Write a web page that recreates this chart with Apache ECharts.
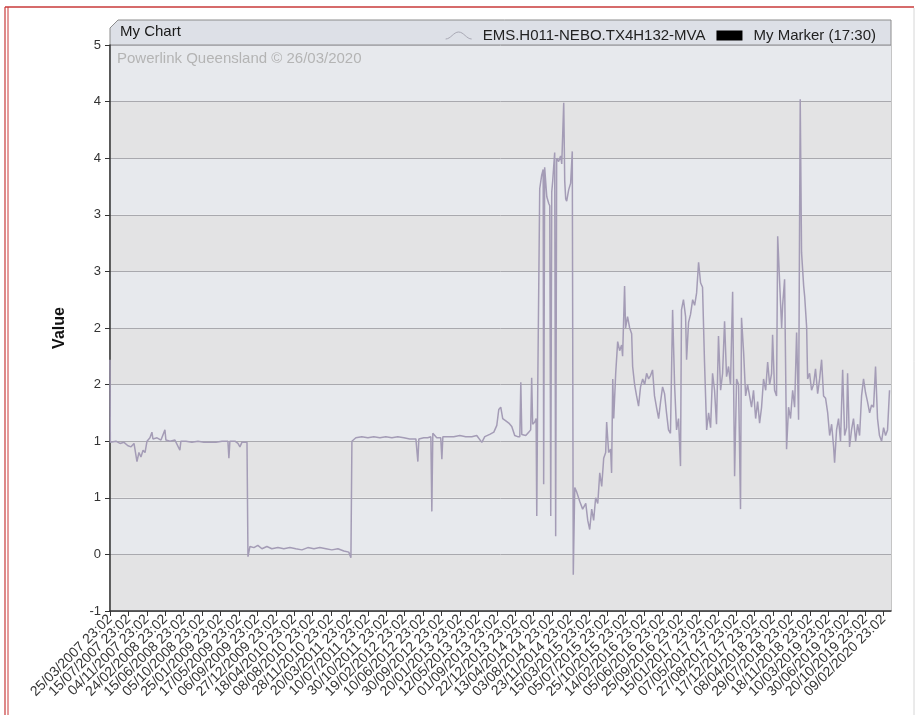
<!DOCTYPE html>
<html>
<head>
<meta charset="utf-8">
<title>My Chart</title>
<script src="https://cdn.jsdelivr.net/npm/echarts@6/dist/echarts.min.js"></script>
<style>
  html, body { margin: 0; padding: 0; background: #ffffff; }
  #chart { width: 917px; height: 715px; }
</style>
</head>
<body>
<div id="chart"></div>
<script>
// Series and legend names
const seriesName = 'EMS.H011-NEBO.TX4H132-MVA';
const markerName = 'My Marker (17:30)';
const chartTitle = 'My Chart';
const creditText = 'Powerlink Queensland \u00A9 26/03/2020';
const yAxisName = 'Value';

// Time axis tick labels (every 112 days)
const xTickLabels = [
  '25/03/2007 23:02', '15/07/2007 23:02', '04/11/2007 23:02', '24/02/2008 23:02',
  '15/06/2008 23:02', '05/10/2008 23:02', '25/01/2009 23:02', '17/05/2009 23:02',
  '06/09/2009 23:02', '27/12/2009 23:02', '18/04/2010 23:02', '08/08/2010 23:02',
  '28/11/2010 23:02', '20/03/2011 23:02', '10/07/2011 23:02', '30/10/2011 23:02',
  '19/02/2012 23:02', '10/06/2012 23:02', '30/09/2012 23:02', '20/01/2013 23:02',
  '12/05/2013 23:02', '01/09/2013 23:02', '22/12/2013 23:02', '13/04/2014 23:02',
  '03/08/2014 23:02', '23/11/2014 23:02', '15/03/2015 23:02', '05/07/2015 23:02',
  '25/10/2015 23:02', '14/02/2016 23:02', '05/06/2016 23:02', '25/09/2016 23:02',
  '15/01/2017 23:02', '07/05/2017 23:02', '27/08/2017 23:02', '17/12/2017 23:02',
  '08/04/2018 23:02', '29/07/2018 23:02', '18/11/2018 23:02', '10/03/2019 23:02',
  '30/06/2019 23:02', '20/10/2019 23:02', '09/02/2020 23:02'
];
const xAxisEnd = '25/03/2020';

// Sample times, in days after 25/03/2007 23:02
const dayOffset = [
  0, 2, 12, 36, 61, 85, 109, 128, 146, 164, 176, 188, 201, 213, 225, 243, 255, 261, 286, 310,
  334, 340, 365, 395, 425, 431, 462, 498, 535, 571, 608, 644, 681, 717, 723, 729, 760, 778, 790, 802,
  833, 839, 851, 875, 899, 924, 954, 984, 1021, 1057, 1094, 1130, 1167, 1203, 1240, 1276, 1313, 1349, 1386, 1422,
  1452, 1465, 1471, 1495, 1531, 1568, 1604, 1641, 1677, 1714, 1750, 1787, 1823, 1860, 1872, 1878, 1908, 1932, 1951, 1957,
  1963, 1987, 2011, 2018, 2024, 2054, 2090, 2127, 2163, 2200, 2230, 2261, 2279, 2309, 2334, 2352, 2364, 2376, 2388, 2407,
  2425, 2443, 2461, 2479, 2492, 2498, 2504, 2528, 2546, 2558, 2564, 2570, 2583, 2591, 2595, 2601, 2613, 2625, 2634, 2637,
  2643, 2656, 2668, 2674, 2680, 2686, 2692, 2704, 2710, 2716, 2728, 2740, 2747, 2759, 2765, 2771, 2777, 2789, 2801, 2811,
  2817, 2826, 2838, 2856, 2874, 2893, 2905, 2917, 2929, 2941, 2953, 2966, 2978, 2990, 3002, 3014, 3020, 3032, 3044, 3050,
  3057, 3063, 3075, 3087, 3099, 3111, 3117, 3129, 3135, 3147, 3160, 3172, 3178, 3190, 3202, 3214, 3226, 3239, 3251, 3263,
  3275, 3287, 3299, 3311, 3323, 3336, 3348, 3360, 3372, 3384, 3396, 3408, 3421, 3433, 3445, 3457, 3469, 3475, 3487, 3500,
  3506, 3518, 3530, 3543, 3555, 3567, 3579, 3591, 3603, 3615, 3628, 3640, 3652, 3664, 3676, 3688, 3700, 3713, 3725, 3737,
  3749, 3761, 3773, 3786, 3798, 3810, 3822, 3834, 3840, 3853, 3865, 3877, 3889, 3901, 3913, 3926, 3938, 3950, 3962, 3974,
  3987, 3999, 4011, 4023, 4029, 4041, 4053, 4060, 4072, 4084, 4090, 4102, 4114, 4126, 4138, 4151, 4163, 4175, 4181, 4187,
  4197, 4205, 4218, 4224, 4236, 4242, 4254, 4266, 4278, 4290, 4303, 4315, 4327, 4339, 4351, 4364, 4376, 4388, 4400, 4406,
  4418, 4430, 4442, 4455, 4467, 4479, 4485, 4497, 4509, 4521, 4534, 4546, 4558, 4570, 4582, 4594, 4606, 4619, 4631, 4643,
  4655, 4667, 4679, 4692, 4704, 4716, 4728, 4740
];

// MVA readings at those times
const mva = [
  1.72, 0.99, 0.98, 1.00, 0.98, 0.99, 0.96, 0.95, 0.98, 0.82, 0.90, 0.86, 0.92, 0.90, 1.00, 1.03, 1.08, 1.02, 1.03, 1.01,
  1.10, 1.01, 1.00, 1.01, 0.92, 1.00, 1.00, 0.99, 1.00, 0.99, 0.99, 0.99, 1.00, 1.00, 0.85, 1.00, 1.00, 0.98, 0.95, 0.99,
  0.99, -0.02, 0.07, 0.06, 0.08, 0.05, 0.07, 0.05, 0.06, 0.05, 0.06, 0.05, 0.04, 0.06, 0.05, 0.06, 0.05, 0.04, 0.05, 0.03,
  0.02, -0.03, 1.00, 1.03, 1.04, 1.03, 1.04, 1.03, 1.04, 1.03, 1.04, 1.03, 1.02, 1.02, 0.82, 1.02, 1.03, 1.03, 1.04, 0.38,
  1.07, 1.03, 1.03, 0.84, 1.04, 1.04, 1.04, 1.05, 1.04, 1.04, 1.05, 0.99, 1.04, 1.06, 1.08, 1.14, 1.28, 1.30, 1.20, 1.18,
  1.16, 1.13, 1.05, 1.04, 1.04, 1.52, 1.06, 1.05, 1.08, 1.10, 1.56, 1.15, 1.17, 1.20, 0.34, 1.48, 3.23, 3.35, 3.40, 0.62,
  3.42, 3.16, 3.10, 3.08, 0.34, 3.20, 3.30, 3.55, 0.16, 3.50, 3.47, 3.52, 3.45, 3.99, 3.30, 3.14, 3.12, 3.22, 3.28, 3.56,
  -0.18, 0.59, 0.55, 0.47, 0.40, 0.45, 0.30, 0.22, 0.40, 0.30, 0.50, 0.45, 0.72, 0.60, 0.85, 0.90, 1.17, 0.90, 0.93, 0.72,
  1.55, 1.20, 1.60, 1.88, 1.80, 1.85, 1.75, 2.37, 2.00, 2.10, 2.00, 1.95, 1.66, 1.50, 1.40, 1.31, 1.48, 1.55, 1.50, 1.60,
  1.55, 1.58, 1.63, 1.40, 1.30, 1.20, 1.35, 1.48, 1.42, 1.25, 1.10, 1.07, 2.16, 1.50, 1.10, 1.20, 0.78, 2.16, 2.25, 2.10,
  1.72, 2.05, 2.12, 2.25, 2.20, 2.31, 2.58, 2.40, 2.36, 1.70, 1.10, 1.25, 1.12, 1.60, 1.45, 1.15, 1.93, 1.45, 1.60, 2.06,
  1.57, 1.66, 1.50, 2.32, 0.69, 1.55, 1.50, 0.40, 2.09, 1.78, 1.40, 1.50, 1.51, 1.30, 1.45, 1.20, 1.35, 1.16, 1.30, 1.55,
  1.45, 1.70, 1.50, 1.60, 1.94, 1.45, 1.40, 2.81, 2.40, 2.00, 2.20, 2.43, 0.93, 1.30, 1.20, 1.45, 1.30, 1.96, 1.60, 1.19,
  4.02, 2.67, 2.37, 2.28, 2.01, 1.55, 1.60, 1.45, 1.50, 1.64, 1.42, 1.55, 1.72, 1.40, 1.38, 1.25, 1.05, 1.15, 0.95, 0.81,
  1.10, 1.20, 1.00, 1.63, 1.05, 1.12, 1.60, 0.95, 1.10, 1.20, 1.00, 1.15, 1.05, 1.40, 1.55, 1.43, 1.35, 1.25, 1.32, 1.30,
  1.66, 1.20, 1.05, 1.00, 1.12, 1.05, 1.10, 1.45
];

// Value axis range and step
const yMin = -0.5;
const yMax = 4.5;
const yStep = 0.5;

// ---- helpers ----
const DAY_MS = 86400000;
function parseDate(s) {
  const [d, m, y] = s.split(' ')[0].split('/').map(Number);
  return Date.UTC(y, m - 1, d);
}
const t0 = parseDate(xTickLabels[0]);
const tickPos = xTickLabels.map(s => Math.round((parseDate(s) - t0) / DAY_MS));
const xMax = Math.round((parseDate(xAxisEnd) - t0) / DAY_MS);

const lineData = dayOffset.map((d, i) => [d, mva[i]]);

const FONT = '"Liberation Sans", Arial, Helvetica, sans-serif';
const LINE_COLOR = '#a49cb6';

const chart = echarts.init(document.getElementById('chart'), null, { renderer: 'canvas' });

const W = 917;
const gridLeft = 110, gridRight = 26, gridTop = 45, gridBottom = 104;
const boxRight = W - gridRight;
const plotWidth = W - gridLeft - gridRight;
// The label strip spans exactly from the first to the last tick date,
// so its evenly spaced categories sit on the 112-day ticks.
const labelStripRight = W - (gridLeft + plotWidth * tickPos[tickPos.length - 1] / xMax);

chart.setOption({
  animation: false,
  backgroundColor: '#ffffff',
  textStyle: { fontFamily: FONT },
  grid: [
    {
      left: gridLeft, right: gridRight, top: gridTop, bottom: gridBottom,
      show: true, borderColor: '#8c8c8c', borderWidth: 1, backgroundColor: 'transparent'
    },
    {
      left: gridLeft, right: labelStripRight, top: gridTop, bottom: gridBottom, show: false
    }
  ],
  legend: {
    right: 36, top: 23,
    itemWidth: 26, itemHeight: 10, itemGap: 11,
    textStyle: { fontFamily: FONT, fontSize: 15, color: '#222', padding: [0, 0, 0, 6] },
    data: [
      {
        name: seriesName,
        icon: 'path://M0,9 C5,9 8,2 13,2 C18,2 21,9 26,9',
        itemStyle: { color: 'transparent', borderColor: '#a8a8b4', borderWidth: 1 }
      },
      { name: markerName, icon: 'rect', itemStyle: { color: '#000000' } }
    ]
  },
  xAxis: [
    {
      type: 'value', gridIndex: 0,
      min: 0, max: xMax, interval: 112,
      axisLine: { show: true, onZero: false, lineStyle: { color: '#333', width: 1.5 } },
      axisTick: { show: true, length: 5, lineStyle: { color: '#333' }, customValues: tickPos },
      axisLabel: { show: false },
      splitLine: { show: false }
    },
    {
      type: 'category', gridIndex: 1,
      data: xTickLabels,
      boundaryGap: false,
      position: 'bottom',
      axisLine: { show: false },
      axisTick: { show: false },
      axisLabel: {
        interval: 0, rotate: 45, margin: 6,
        fontFamily: FONT, fontSize: 14, color: '#333'
      },
      splitLine: { show: false }
    }
  ],
  yAxis: [
    {
      type: 'value', gridIndex: 0,
      min: yMin, max: yMax, interval: yStep,
      name: yAxisName,
      nameLocation: 'middle', nameGap: 42, nameRotate: 90,
      nameTextStyle: { fontFamily: FONT, fontSize: 16, fontWeight: 'bold', color: '#111' },
      axisLine: { show: true, lineStyle: { color: '#333', width: 1.5 } },
      axisTick: { show: true, length: 5, lineStyle: { color: '#333' } },
      axisLabel: {
        fontFamily: FONT, fontSize: 13, color: '#333', margin: 9,
        formatter: v => String(Math.sign(v) * Math.round(Math.abs(v)))
      },
      splitLine: { show: true, lineStyle: { color: '#a9a9ae', width: 1 } },
      splitArea: { show: true, areaStyle: { color: ['#e3e3e4', '#e7e9ed'] } }
    },
    { type: 'value', gridIndex: 1, show: false, min: yMin, max: yMax }
  ],
  series: [
    {
      name: seriesName,
      type: 'line',
      xAxisIndex: 0, yAxisIndex: 0,
      data: lineData,
      showSymbol: false,
      symbol: 'none',
      lineStyle: { color: LINE_COLOR, width: 1.5 },
      itemStyle: { color: LINE_COLOR },
      z: 3
    },
    {
      name: markerName,
      type: 'line',
      xAxisIndex: 0, yAxisIndex: 0,
      data: [],
      itemStyle: { color: '#000' }
    }
  ],
  graphic: [
    // page border
    { type: 'line', silent: true, shape: { x1: 5, y1: 7, x2: 914, y2: 7 }, style: { stroke: '#c83a3a', lineWidth: 1.5 } },
    { type: 'line', silent: true, shape: { x1: 5, y1: 7, x2: 5, y2: 715 }, style: { stroke: '#c83a3a', lineWidth: 1.2 } },
    { type: 'line', silent: true, shape: { x1: 8, y1: 7, x2: 8, y2: 715 }, style: { stroke: '#c83a3a', lineWidth: 1 } },
    { type: 'line', silent: true, shape: { x1: 914, y1: 8, x2: 914, y2: 715 }, style: { stroke: '#d6d6d6', lineWidth: 1 } },
    // caption bar with a bevelled corner
    {
      type: 'polygon', silent: true, z: 0,
      shape: { points: [[gridLeft, 28], [gridLeft + 8, 20], [boxRight, 20], [boxRight, gridTop], [gridLeft, gridTop]] },
      style: { fill: '#dde0e7', stroke: '#8c8c8c', lineWidth: 1 }
    },
    {
      type: 'text', silent: true, z: 5, left: 120, top: 24,
      style: { text: chartTitle, font: '15px ' + FONT, fill: '#1a1a1a' }
    },
    {
      type: 'text', silent: true, z: 5, left: 117, top: 51,
      style: { text: creditText, font: '15px ' + FONT, fill: '#b4b4b4' }
    }
  ]
});
</script>
</body>
</html>
